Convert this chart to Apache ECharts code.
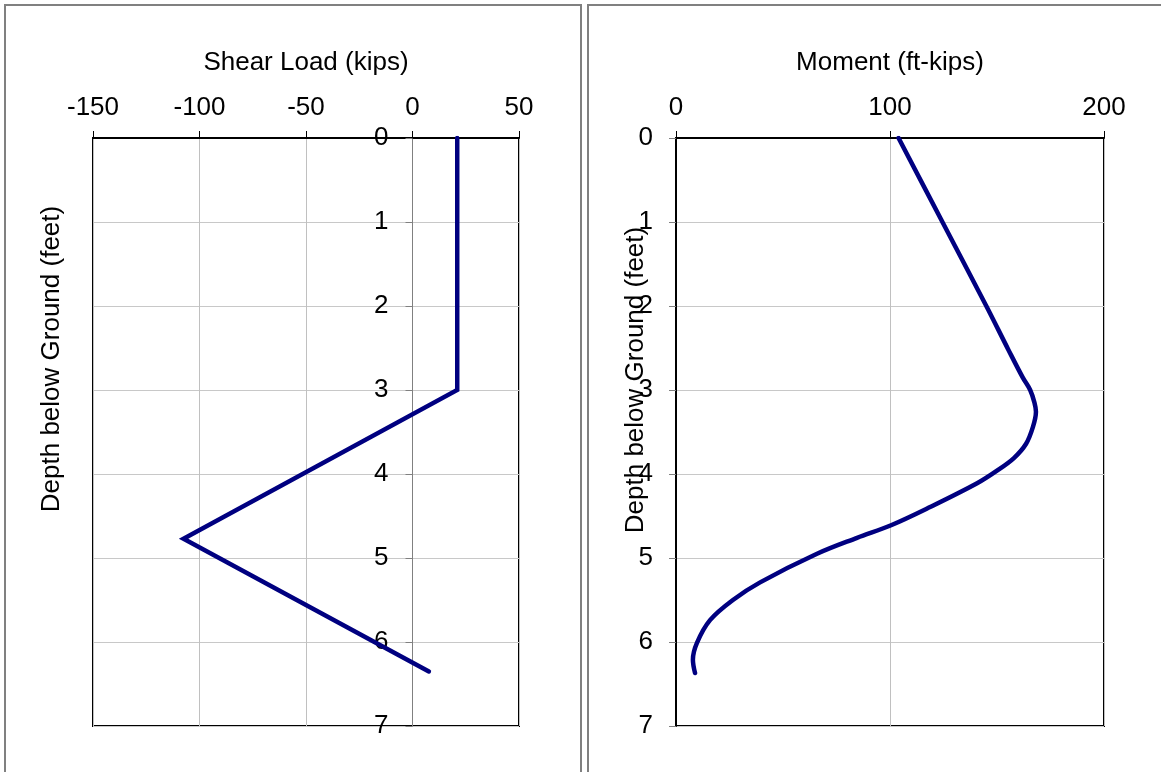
<!DOCTYPE html>
<html><head><meta charset="utf-8">
<script src="https://cdn.jsdelivr.net/npm/echarts@6/dist/echarts.min.js"></script>
<style>html,body{margin:0;padding:0;background:#fff}#c{width:1161px;height:772px}</style>
</head><body><div id="c"></div>
<script>
// ---- data ----
const shearDepth = [0, 3, 4.77, 6.35];
const shearLoad  = [21, 21, -107.5, 7.7];

const momentDepth = [0, 1, 2, 2.52, 2.85, 3.0, 3.15, 3.26, 3.44, 3.64, 3.81, 3.96, 4.11, 4.40, 4.61, 4.76, 4.95, 5.29, 5.5, 5.74, 6.01, 6.21, 6.37];
const momentValue = [104, 124.5, 145, 155.3, 162, 165.5, 167.5, 168.2, 166.8, 163.6, 157.9, 150.0, 140.7, 118.2, 100.5, 84.6, 65.9, 39.3, 26.6, 15.9, 9.8, 7.9, 8.9];

const shearTicks  = [-150, -100, -50, 0, 50];
const momentTicks = [0, 100, 200];
const depthTicks  = [0, 1, 2, 3, 4, 5, 6, 7];

const shearTitle  = 'Shear Load (kips)';
const momentTitle = 'Moment (ft-kips)';
const depthTitle  = 'Depth below Ground (feet)';

// ---- chart ----
const FONT = 'Liberation Sans, Arial, sans-serif';
const FS = 26;
const navy = '#000080';

function zip(xs, ys) { return xs.map((x, i) => [x, ys[i]]); }

function xAxisFor(gridIndex, ticks, title) {
  return {
    gridIndex, type: 'value', position: 'top',
    min: ticks[0], max: ticks[ticks.length - 1], interval: ticks[1] - ticks[0],
    name: title, nameLocation: 'middle', nameGap: 62,
    nameTextStyle: { fontFamily: FONT, fontSize: FS, color: '#000' },
    axisLine: { show: true, onZero: false, lineStyle: { color: '#000', width: 2 } },
    axisTick: { show: true, inside: false, length: 7, lineStyle: { color: '#000', width: 1 } },
    axisLabel: { fontFamily: FONT, fontSize: FS, color: '#000', margin: 17 },
    splitLine: { show: true, lineStyle: { color: '#c0c0c0', width: 1 } }
  };
}

function yAxisFor(gridIndex, offset, lineColor, lineWidth, margin) {
  return {
    gridIndex, type: 'value', inverse: true, position: 'left', offset: offset,
    min: depthTicks[0], max: depthTicks[depthTicks.length - 1], interval: depthTicks[1] - depthTicks[0],
    axisLine: { show: true, onZero: false, lineStyle: { color: lineColor, width: lineWidth } },
    axisTick: { show: true, inside: false, length: 7, lineStyle: { color: '#808080', width: 1 } },
    axisLabel: { fontFamily: FONT, fontSize: FS, color: '#000', margin: margin },
    splitLine: { show: true, lineStyle: { color: '#c8c8c8', width: 1 } }
  };
}

const chart = echarts.init(document.getElementById('c'), null, { renderer: 'canvas' });
// left y axis sits at shear = 0 (0 is 150/200 of the way across a 426px grid)
const leftZeroOffset = -(426 * (0 - shearTicks[0]) / (shearTicks[shearTicks.length - 1] - shearTicks[0]));
chart.setOption({
  animation: false,
  backgroundColor: '#fff',
  grid: [
    { left: 93, top: 138, width: 426, height: 588, show: true, borderColor: '#000', borderWidth: 2, backgroundColor: 'transparent' },
    { left: 676, top: 138, width: 428, height: 588, show: true, borderColor: '#000', borderWidth: 2, backgroundColor: 'transparent' }
  ],
  xAxis: [ xAxisFor(0, shearTicks, shearTitle), xAxisFor(1, momentTicks, momentTitle) ],
  yAxis: [ yAxisFor(0, leftZeroOffset, '#808080', 1, 24), yAxisFor(1, 0, '#000', 2, 23) ],
  series: [
    { type: 'line', xAxisIndex: 0, yAxisIndex: 0, data: zip(shearLoad, shearDepth),
      showSymbol: false, symbol: 'none', lineStyle: { color: navy, width: 4.5, cap: 'round', join: 'miter' }, z: 5 },
    { type: 'line', xAxisIndex: 1, yAxisIndex: 1, data: zip(momentValue, momentDepth),
      showSymbol: false, symbol: 'none', smooth: 0.35, lineStyle: { color: navy, width: 4.5, cap: 'round' }, z: 5 }
  ],
  graphic: [
    { type: 'rect', shape: { x: 5, y: 5, width: 576, height: 820 }, style: { fill: 'none', stroke: '#808080', lineWidth: 2 }, z: 0 },
    { type: 'rect', shape: { x: 588, y: 5, width: 620, height: 820 }, style: { fill: 'none', stroke: '#808080', lineWidth: 2 }, z: 0 },
    { type: 'text', x: 52, y: 359, rotation: Math.PI / 2,
      style: { text: depthTitle, fontFamily: FONT, fontSize: FS, fill: '#000', align: 'center', verticalAlign: 'middle' } },
    { type: 'text', x: 636, y: 380, rotation: Math.PI / 2,
      style: { text: depthTitle, fontFamily: FONT, fontSize: FS, fill: '#000', align: 'center', verticalAlign: 'middle' } }
  ]
});
</script>
</body></html>
